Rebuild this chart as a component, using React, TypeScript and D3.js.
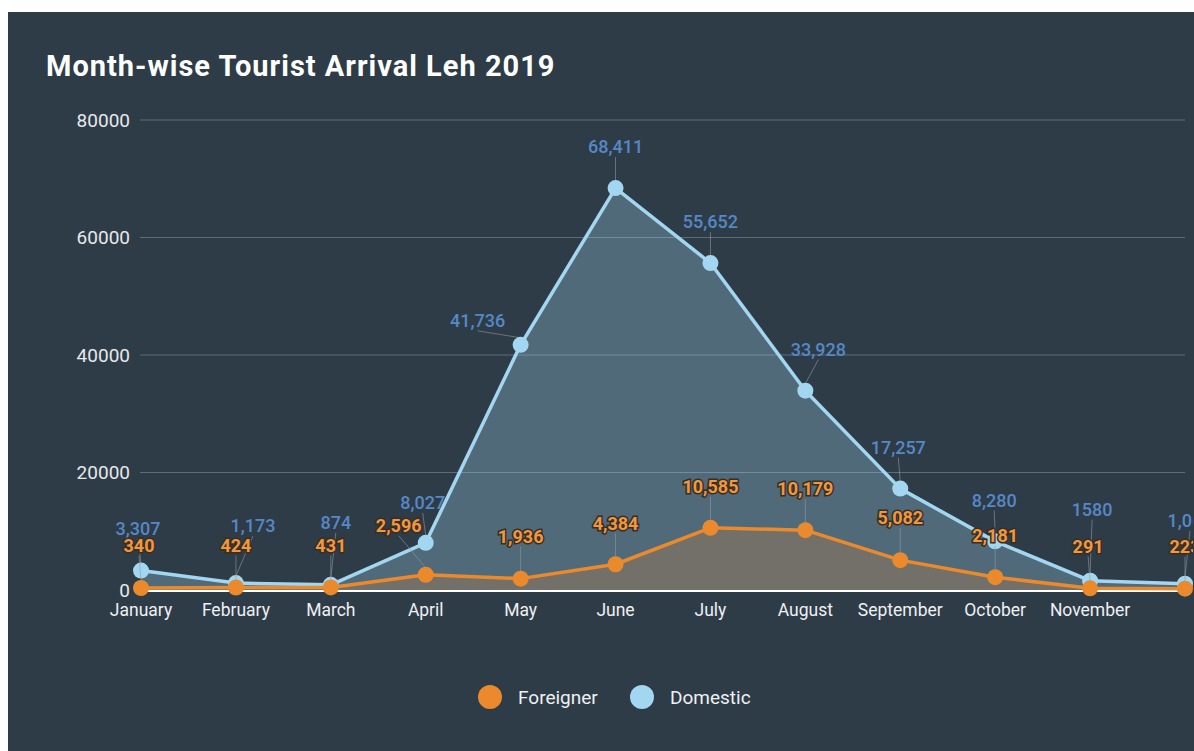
import React from "react";
import * as d3 from "d3";

const months = ["January","February","March","April","May","June","July","August","September","October","November","December"];
const domestic = [3307, 1173, 874, 8027, 41736, 68411, 55652, 33928, 17257, 8280, 1580, 1065];
const domesticLabels = ["3,307","1,173","874","8,027","41,736","68,411","55,652","33,928","17,257","8,280","1580","1,065"];
const foreigner = [340, 424, 431, 2596, 1936, 4384, 10585, 10179, 5082, 2181, 291, 223];
const foreignerLabels = ["340","424","431","2,596","1,936","4,384","10,585","10,179","5,082","2,181","291","223"];
const yTicks = [0, 20000, 40000, 60000, 80000];
// label offsets (dx, dy) relative to their point
const domOffsets: [number, number][] = [[-3,-42],[17,-57],[5,-62],[-3,-40],[-43,-24],[0,-41],[0,-41],[13,-41],[-2,-41],[-1,-41],[2,-71],[5,-63]];
const forOffsets: [number, number][] = [[-2,-42],[0,-42],[0,-42],[-27,-49],[0,-42],[0,-41],[0,-41],[0,-41],[0,-42],[0,-41],[-2,-42],[0,-42]];

const W = 1194, H = 751;
const BG = "#2e3c48";
const BLUE = "#a3d6f0";
const ORANGE = "#ea8a2c";
const FONT = "Roboto, 'Noto Sans', sans-serif";

export default function App() {
  const x = d3.scalePoint<string>().domain(months).range([141, 1185]);
  const y = d3.scaleLinear().domain([0, 80000]).range([590, 120]);

  const areaD = d3.area<number>().x((_, i) => x(months[i])!).y0(y(0)).y1((d) => y(d));
  const lineD = d3.line<number>().x((_, i) => x(months[i])!).y((d) => y(d));

  const series = [
    { name: "Domestic", values: domestic, labels: domesticLabels, offsets: domOffsets, color: BLUE, fillOp: 0.3, labelColor: "#5688c6", stroke: false },
    { name: "Foreigner", values: foreigner, labels: foreignerLabels, offsets: forOffsets, color: ORANGE, fillOp: 0.22, labelColor: "#f0983f", stroke: true },
  ];

  return (
    <div style={{ position: "absolute", left: 0, top: 0, width: W, height: H, background: "#fff" }}>
      <svg width={W} height={H} style={{ display: "block", fontFamily: FONT }}>
        <defs>
          <clipPath id="plotclip">
            <rect x={0} y={0} width={1193} height={H} />
          </clipPath>
        </defs>
        <rect x={8} y={12} width={1186} height={H - 12} fill={BG} />
        <text x={46} y={76} fill="#ffffff" fontSize={29} fontWeight={700} letterSpacing={1} fontFamily={FONT}>
          Month-wise Tourist Arrival Leh 2019
        </text>
        {yTicks.map((t) => (
          <g key={t}>
            {t > 0 && <line x1={140} x2={1185} y1={y(t)} y2={y(t)} stroke="#5d6d79" strokeWidth={1} />}
            <text x={130} y={y(t)} dy="0.35em" textAnchor="end" fill="#e6e9ec" fontSize={19}>
              {t}
            </text>
          </g>
        ))}
        <g clipPath="url(#plotclip)">
          {series.map((s) => (
            <path key={s.name + "a"} d={areaD(s.values)!} fill={s.color} fillOpacity={s.fillOp} />
          ))}
          <line x1={140} x2={1185} y1={y(0) + 1} y2={y(0) + 1} stroke="#ffffff" strokeWidth={2} />
          {series.map((s) => (
            <g key={s.name + "l"}>
              {s.values.map((v, i) => {
                const px = x(months[i])!, py = y(v);
                const [dx, dy] = s.offsets[i];
                return (
                  <line key={i} x1={px} y1={py - 7} x2={px + dx} y2={py + dy + 10} stroke="#8d9aa5" strokeOpacity={0.6} strokeWidth={1} />
                );
              })}
              <path d={lineD(s.values)!} fill="none" stroke={s.color} strokeWidth={3.5} strokeLinejoin="round" />
              {s.values.map((v, i) => (
                <circle key={i} cx={x(months[i])!} cy={y(v)} r={8} fill={s.color} />
              ))}
            </g>
          ))}
          {series.map((s) => (
            <g key={s.name + "t"}>
              {s.values.map((v, i) => {
                const [dx, dy] = s.offsets[i];
                return (
                  <text
                    key={i}
                    x={x(months[i])! + dx}
                    y={y(v) + dy}
                    dy="0.35em"
                    textAnchor="middle"
                    fontSize={18}
                    fontWeight={s.stroke ? 700 : 500}
                    fill={s.labelColor}
                    stroke={s.stroke ? "#3a2e24" : "none"}
                    strokeWidth={s.stroke ? 3 : 0}
                    paintOrder="stroke"
                  >
                    {s.labels[i]}
                  </text>
                );
              })}
            </g>
          ))}
        </g>
        {months.slice(0, 11).map((m) => (
          <text key={m} x={x(m)!} y={610} dy="0.35em" textAnchor="middle" fill="#eef0f2" fontSize={17.5}>
            {m}
          </text>
        ))}
        <g>
          <circle cx={490} cy={697} r={12} fill={ORANGE} />
          <text x={518} y={697} dy="0.35em" fill="#eef0f2" fontSize={19}>Foreigner</text>
          <circle cx={642} cy={697} r={12} fill={BLUE} />
          <text x={670} y={697} dy="0.35em" fill="#eef0f2" fontSize={19}>Domestic</text>
        </g>
      </svg>
    </div>
  );
}
